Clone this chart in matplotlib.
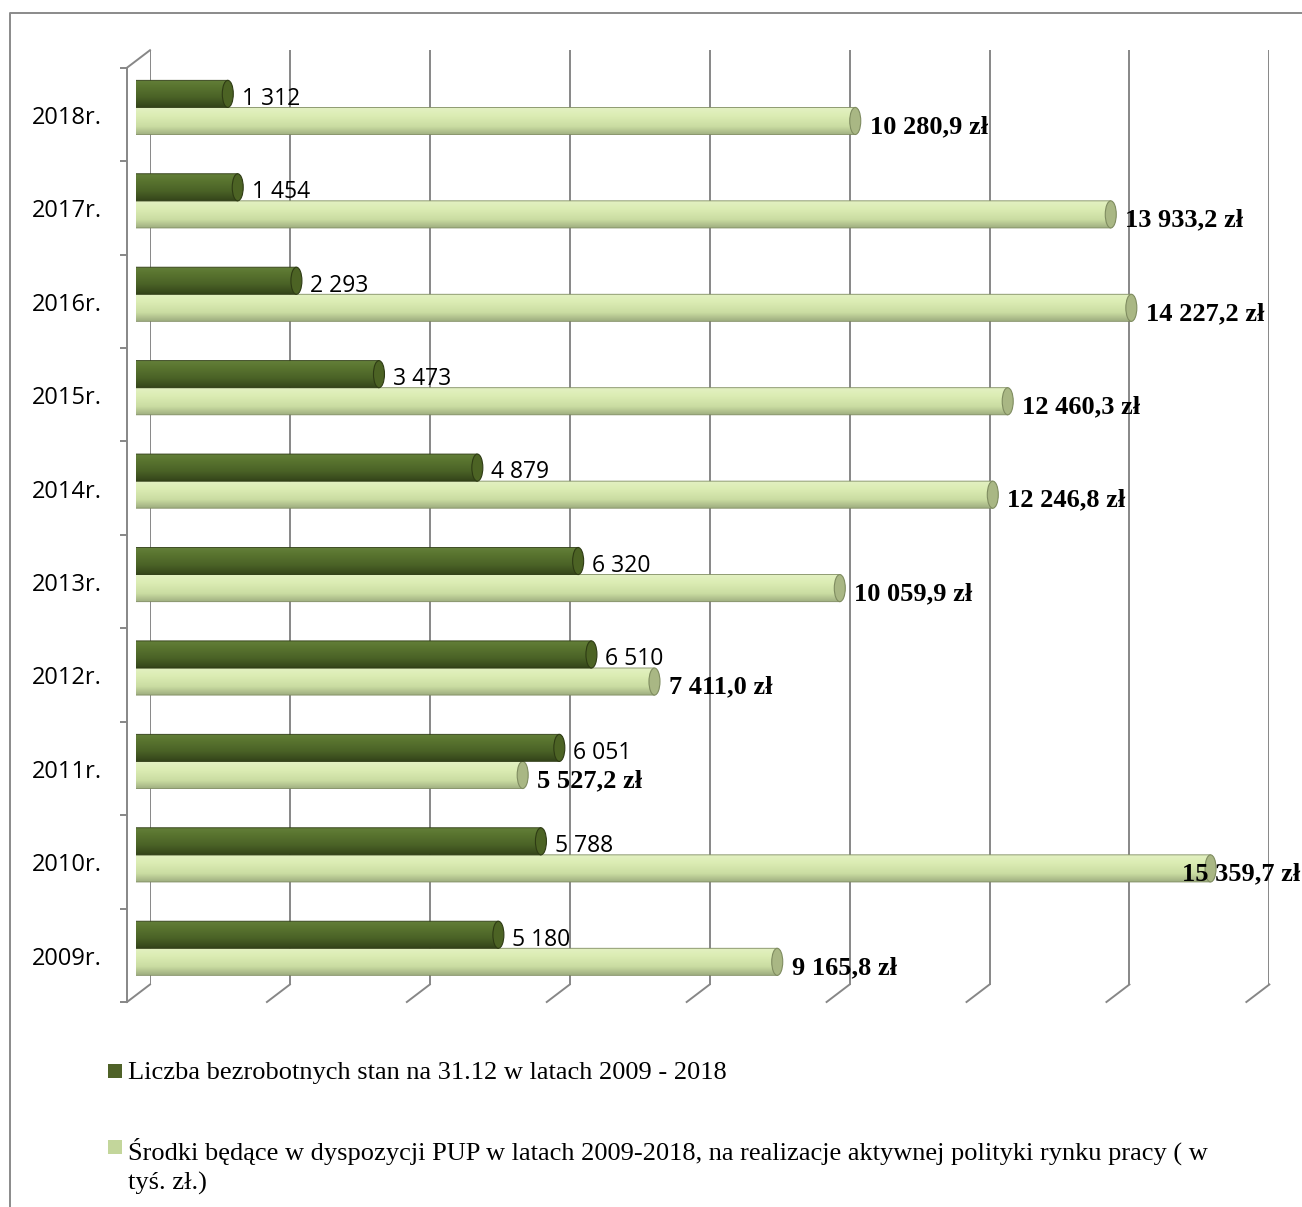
import numpy as np
import matplotlib.pyplot as plt
from matplotlib import transforms
from matplotlib.patches import Ellipse, PathPatch, Rectangle
from matplotlib.path import Path
from matplotlib.lines import Line2D

years = ["2009r.", "2010r.", "2011r.", "2012r.", "2013r.",
         "2014r.", "2015r.", "2016r.", "2017r.", "2018r."]
bezrobotni = [5180, 5788, 6051, 6510, 6320, 4879, 3473, 2293, 1454, 1312]
srodki = [9165.8, 15359.7, 5527.2, 7411.0, 10059.9,
          12246.8, 12460.3, 14227.2, 13933.2, 10280.9]
grid_values = np.arange(0, 16001, 2000)
legend_labels = [
    "Liczba bezrobotnych stan na 31.12 w latach 2009 - 2018",
    "Środki będące w dyspozycji PUP w latach 2009-2018, na realizacje "
    "aktywnej polityki rynku pracy ( w\ntyś. zł.)",
]
legend_colors = ["#4f6228", "#c3d69b"]

W, H = 1302, 1207
fig = plt.figure(figsize=(W / 100, H / 100), dpi=100)

# three planes of the fake 3D chart: back wall (grid), bars, front (axis)
px_per_unit = 0.06996
x0, top, bot = 136, 60.7, 995
width = 16000 * px_per_unit


def plane(dx, dy):
    a = fig.add_axes([(x0 + dx) / W, 1 - (bot + dy) / H, width / W, (bot - top) / H])
    a.set_xlim(0, 16000)
    a.set_ylim(-0.5, 9.5)
    a.patch.set_alpha(0)
    for s in a.spines.values():
        s.set_visible(False)
    return a


ax_back = plane(14, -10.5)
ax = plane(0, 0)
ax_front = plane(-9, 7)

grid_col = "#878787"
ax_back.set_xticks(grid_values)
ax_back.set_yticks([])
ax_back.tick_params(axis="x", length=0, labelbottom=False)
ax_back.grid(axis="x", color=grid_col, lw=1.4)

ax.set_xticks([])
ax.set_yticks([])

ax_front.set_xticks([])
ax_front.spines["left"].set_visible(True)
ax_front.spines["left"].set_color(grid_col)
ax_front.spines["left"].set_linewidth(1.4)
ax_front.set_yticks(np.arange(-0.5, 10, 1))
ax_front.set_yticklabels([])
ax_front.tick_params(axis="y", which="major", length=5, width=1.4, color=grid_col)
# year labels
for i, yr in enumerate(years):
    ax_front.annotate(yr, xy=(0, i), xytext=(-18, -2.5), textcoords="offset points",
                      ha="right", va="center", fontfamily="Open Sans", fontsize=17,
                      annotation_clip=False)

# diagonals joining the back wall and the front plane
ident = transforms.IdentityTransform()
for g in grid_values:
    p1 = ax_back.transData.transform((g, -0.5))
    p2 = ax_front.transData.transform((g, -0.5))
    fig.add_artist(Line2D([p1[0], p2[0]], [p1[1], p2[1]], color=grid_col, lw=1.4, transform=ident))
p1 = ax_back.transData.transform((0, 9.5))
p2 = ax_front.transData.transform((0, 9.5))
fig.add_artist(Line2D([p1[0], p2[0]], [p1[1], p2[1]], color=grid_col, lw=1.4, transform=ident))


def gradient(stops, n=64):
    pos = np.array([s[0] for s in stops])
    cols = np.array([[int(s[1][i:i + 2], 16) / 255 for i in (1, 3, 5)] for s in stops])
    t = np.linspace(0, 1, n)
    return np.stack([np.interp(t, pos, cols[:, k]) for k in range(3)], axis=-1)[:, None, :]


dark_grad = gradient([(0, "#34441a"), (0.35, "#4a6226"), (0.75, "#5a7530"), (1, "#64803a")])
light_grad = gradient([(0, "#9fae80"), (0.3, "#cadca2"), (0.7, "#dcedb4"), (1, "#e4f1c4")])


def cylinder(yc, v, h, grad, cap_face, cap_edge, z):
    a = 5.5 / px_per_unit
    b = h / 2
    t = np.linspace(np.pi / 2, 3 * np.pi / 2, 40)
    xs = np.concatenate([[v], a * np.cos(t), [v, v]])
    ys = np.concatenate([[yc + b], yc + b * np.sin(t), [yc - b, yc + b]])
    path = Path(np.column_stack([xs, ys]))
    clip = PathPatch(path, transform=ax.transData)
    im = ax.imshow(grad, extent=(-a, v, yc - b, yc + b), origin="lower",
                   aspect="auto", interpolation="bilinear", zorder=z)
    im.set_clip_path(clip)
    ax.add_patch(PathPatch(path, facecolor="none", edgecolor=cap_edge, lw=0.6, zorder=z))
    ax.add_patch(Ellipse((v, yc), 2 * a, h, facecolor=cap_face, edgecolor=cap_edge,
                         lw=0.8, zorder=z + 0.1))


bar_h = 0.29
labels = []
for i in range(len(years)):
    y_dark = i + 0.145
    y_light = i - 0.145
    cylinder(y_light, srodki[i], bar_h, light_grad, "#a9b784", "#7f8c60", 2)
    cylinder(y_dark, bezrobotni[i], bar_h, dark_grad, "#4c6324", "#2e3b14", 3)
    ax.annotate(f"{bezrobotni[i]:,}".replace(",", " "), xy=(bezrobotni[i], y_dark),
                xytext=(10, -3.5), textcoords="offset points", ha="left", va="center",
                fontfamily="Open Sans", fontsize=16.5, zorder=6, annotation_clip=False)
    txt = f"{srodki[i]:,.1f}".replace(",", " ").replace(".", ",") + " zł"
    labels.append(ax.annotate(txt, xy=(srodki[i], y_light), xytext=(10.5, -4),
                              textcoords="offset points", ha="left", va="center",
                              fontfamily="Liberation Serif", fontweight="bold",
                              fontsize=19, zorder=6, annotation_clip=False))

ax.set_xlim(0, 16000)
ax.set_ylim(-0.5, 9.5)

# keep value labels inside the figure
fig.canvas.draw()
for t in labels:
    bb = t.get_window_extent()
    if bb.x1 > W - 2:
        dx, dy = t.xyann
        t.xyann = (dx - (bb.x1 - (W - 2)) * 0.72, dy)

# legend below the plot
legend_y = [1071, 1147]
for lab, col, yy in zip(legend_labels, legend_colors, legend_y):
    fig.add_artist(Rectangle((108 / W, 1 - (yy + 7) / H), 14 / W, 14 / H,
                             facecolor=col, edgecolor="none", transform=fig.transFigure))
    fig.text(128 / W, 1 - (yy - 9) / H, lab, ha="left", va="top", linespacing=1.35,
             fontfamily="Liberation Serif", fontsize=19)

# outer frame (left and top edges visible)
fig.add_artist(Line2D([9.5, 9.5, W], [0, H - 13, H - 13], color="#8a8a8a", lw=1.4, transform=ident))

fig.savefig("out.png", dpi=100)
